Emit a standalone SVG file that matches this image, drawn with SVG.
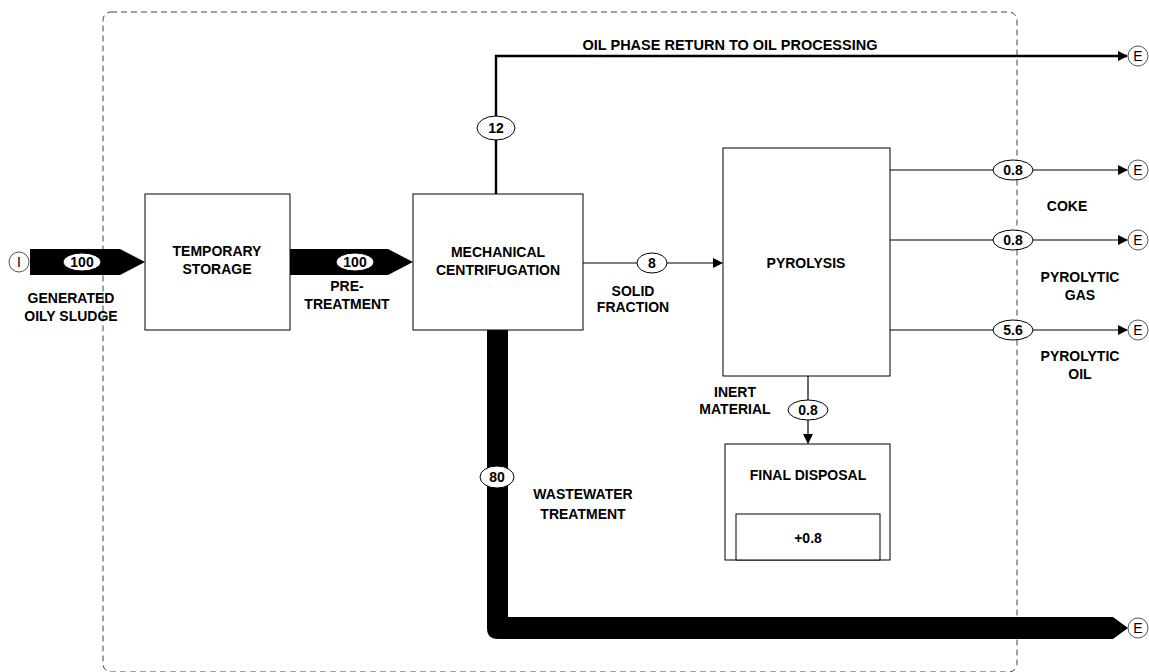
<svg xmlns="http://www.w3.org/2000/svg" width="1149" height="672" viewBox="0 0 1149 672">
<defs>
<style>
.t{font-family:"Liberation Sans",Arial,sans-serif;font-weight:bold;font-size:14px;fill:#000;text-anchor:middle}
.box{fill:#fff;stroke:#000;stroke-width:1}
.lbl{fill:#fff;stroke:#000;stroke-width:1}
.ln{fill:none;stroke:#000;stroke-width:1.2}
.term{fill:#fff;stroke:#555;stroke-width:1}
.tt{font-family:"Liberation Sans",Arial,sans-serif;font-size:14px;fill:#000;text-anchor:middle}
</style>
<marker id="ah" markerWidth="10" markerHeight="10" refX="9" refY="5" orient="auto" markerUnits="userSpaceOnUse">
<path d="M0,0 L10,5 L0,10 Z" fill="#000"/>
</marker>
</defs>
<rect width="1149" height="672" fill="#fff"/>
<rect id="boundary" x="103" y="12" width="914" height="660" rx="8" fill="none" stroke="#444" stroke-width="1" stroke-dasharray="6,4"/>

<g id="connectors">
<path d="M30,249 H120 L145,262 L120,275 H30 Z" fill="#000"/>
<path d="M290,249 H388 L413,262 L388,275 H290 Z" fill="#000"/>
<path d="M487,330 V628 Q487,639 498,639 H1113 L1128,628 L1113,617 H508 V330 Z" fill="#000"/>
<path class="ln" d="M496,194 V56 H1127" style="stroke-width:2.4" marker-end="url(#ah)"/>
<path class="ln" d="M583,263 H722" marker-end="url(#ah)"/>
<path class="ln" d="M890,170 H1127" marker-end="url(#ah)"/>
<path class="ln" d="M890,240 H1127" marker-end="url(#ah)"/>
<path class="ln" d="M890,330 H1127" marker-end="url(#ah)"/>
<path class="ln" d="M808,376 V443" marker-end="url(#ah)"/>
</g>

<g id="flow-labels">
<ellipse class="lbl" cx="82" cy="262" rx="19" ry="9"/><text class="t" x="82" y="267">100</text>
<ellipse class="lbl" cx="355" cy="262" rx="19" ry="9"/><text class="t" x="355" y="267">100</text>
<ellipse class="lbl" cx="496" cy="128" rx="19" ry="12"/><text class="t" x="496" y="133">12</text>
<ellipse class="lbl" cx="652" cy="263" rx="15" ry="10"/><text class="t" x="652" y="268">8</text>
<ellipse class="lbl" cx="1013" cy="170" rx="20" ry="10"/><text class="t" x="1013" y="175">0.8</text>
<ellipse class="lbl" cx="1013" cy="240" rx="20" ry="10"/><text class="t" x="1013" y="245">0.8</text>
<ellipse class="lbl" cx="1013" cy="330" rx="20" ry="10"/><text class="t" x="1013" y="335">5.6</text>
<ellipse class="lbl" cx="808" cy="410" rx="20" ry="10"/><text class="t" x="808" y="415">0.8</text>
<ellipse class="lbl" cx="497" cy="477" rx="17" ry="11"/><text class="t" x="497" y="482">80</text>
</g>

<g id="terminals">
<circle class="term" cx="19" cy="262" r="10"/><text class="tt" x="19" y="267">I</text>
<circle class="term" cx="1138" cy="56" r="10"/><text class="tt" x="1138" y="61">E</text>
<circle class="term" cx="1138" cy="170" r="10"/><text class="tt" x="1138" y="175">E</text>
<circle class="term" cx="1138" cy="240" r="10"/><text class="tt" x="1138" y="245">E</text>
<circle class="term" cx="1138" cy="330" r="10"/><text class="tt" x="1138" y="335">E</text>
<circle class="term" cx="1138" cy="628" r="10"/><text class="tt" x="1138" y="633">E</text>
</g>

<g id="temporary-storage">
<rect class="box" x="145" y="194" width="145" height="136"/>
<text class="t" x="217" y="256">TEMPORARY</text>
<text class="t" x="217" y="274">STORAGE</text>
</g>
<g id="mechanical-centrifugation">
<rect class="box" x="413" y="194" width="170" height="136"/>
<text class="t" x="498" y="257">MECHANICAL</text>
<text class="t" x="498" y="275">CENTRIFUGATION</text>
</g>
<g id="pyrolysis">
<rect class="box" x="723" y="148" width="167" height="228"/>
<text class="t" x="806" y="268">PYROLYSIS</text>
</g>
<g id="final-disposal">
<rect class="box" x="725" y="444" width="165" height="116"/>
<text class="t" x="808" y="480">FINAL DISPOSAL</text>
<rect class="box" x="736" y="514" width="144" height="46"/>
<text class="t" x="808" y="543">+0.8</text>
</g>

<g id="texts">
<text class="t" x="71" y="303">GENERATED</text>
<text class="t" x="71" y="321">OILY SLUDGE</text>
<text class="t" x="347" y="291">PRE-</text>
<text class="t" x="347" y="309">TREATMENT</text>
<text class="t" x="730" y="50" style="font-size:14.5px">OIL PHASE RETURN TO OIL PROCESSING</text>
<text class="t" x="633" y="296">SOLID</text>
<text class="t" x="633" y="312">FRACTION</text>
<text class="t" x="1067" y="211">COKE</text>
<text class="t" x="1080" y="282">PYROLYTIC</text>
<text class="t" x="1080" y="300">GAS</text>
<text class="t" x="1080" y="361">PYROLYTIC</text>
<text class="t" x="1080" y="379">OIL</text>
<text class="t" x="735" y="397">INERT</text>
<text class="t" x="735" y="414">MATERIAL</text>
<text class="t" x="583" y="499">WASTEWATER</text>
<text class="t" x="583" y="519">TREATMENT</text>
</g>
</svg>
